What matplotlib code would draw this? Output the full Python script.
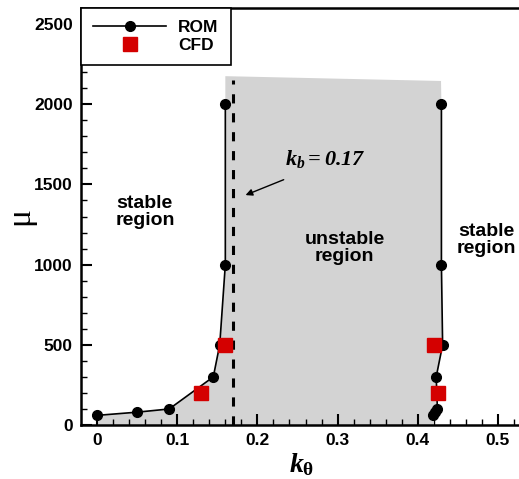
import numpy as np
import matplotlib
matplotlib.use('Agg')
import matplotlib.pyplot as plt

plt.rcParams['font.family'] = 'Liberation Sans'
plt.rcParams['font.weight'] = 'bold'
plt.rcParams['mathtext.fontset'] = 'custom'
plt.rcParams['mathtext.it'] = 'Liberation Serif:italic:bold'
plt.rcParams['mathtext.rm'] = 'Liberation Serif:italic:bold'
plt.rcParams['mathtext.sf'] = 'Liberation Serif:bold'

# ROM results (two branches, same mu values)
mu_rom = [60, 80, 100, 300, 500, 1000, 2000]
k_left = [0.0, 0.05, 0.09, 0.145, 0.153, 0.160, 0.160]
k_right = [0.419, 0.4215, 0.4245, 0.423, 0.431, 0.4295, 0.4295]

# CFD results
k_cfd = [0.13, 0.159, 0.42, 0.4255]
mu_cfd = [200, 500, 500, 200]

# shaded unstable region top edge
shade_top_k = [0.160, 0.429]
shade_top_mu = [2175, 2145]

kb = 0.17
kb_top = 2150


def main():
    fig = plt.figure(figsize=(5.19, 4.79), dpi=100)
    ax = fig.add_axes([81 / 519, 54 / 479, 441 / 519, 417 / 479])

    # grey region: under left branch, across the top, down the right branch
    poly_k = np.concatenate([[0.0], k_left, shade_top_k, k_right[::-1], [k_right[0]]])
    poly_mu = np.concatenate([[0.0], mu_rom, shade_top_mu, mu_rom[::-1], [0.0]])
    ax.fill(poly_k, poly_mu, color='#d3d3d3', lw=0, zorder=1)

    ax.plot([kb, kb], [0, kb_top], color='black', lw=2.2, ls=(0, (3, 3.2)), zorder=2)

    ax.plot(k_left, mu_rom, color='black', marker='o', ms=7, lw=1.2, zorder=3, label='ROM')
    ax.plot(k_right, mu_rom, color='black', marker='o', ms=7, lw=1.2, zorder=3)
    ax.plot(k_cfd, mu_cfd, ls='none', marker='s', ms=10, color='#d40000', zorder=4, label='CFD')

    ax.set_xlim(-0.02, 0.53)
    ax.set_ylim(0, 2600)
    ax.set_xticks([0, 0.1, 0.2, 0.3, 0.4, 0.5])
    ax.set_xticklabels(['0', '0.1', '0.2', '0.3', '0.4', '0.5'])
    ax.set_yticks([0, 500, 1000, 1500, 2000, 2500])
    ax.set_xticks(np.arange(0, 0.53, 0.02), minor=True)
    ax.set_yticks(np.arange(0, 2600, 100), minor=True)
    ax.tick_params(which='major', direction='in', length=8, width=1.5, labelsize=12.5, pad=6)
    ax.tick_params(which='minor', direction='in', length=4, width=1.0)
    ax.tick_params(right=False, top=False, which='both')
    for s in ax.spines.values():
        s.set_linewidth(1.8)

    ax.set_xlabel(r'$k_{\mathsf{\theta}}$', fontsize=20, labelpad=2)
    ax.set_ylabel('μ', fontsize=24, family='Liberation Serif', labelpad=-1)

    ax.text(0.0597, 1331, 'stable\nregion', fontsize=14, fontweight='bold', ha='center', va='center', linespacing=1.0)
    ax.text(0.3087, 1106, 'unstable\nregion', fontsize=14, fontweight='bold', ha='center', va='center', linespacing=1.0)
    ax.text(0.485, 1156, 'stable\nregion', fontsize=14, fontweight='bold', ha='center', va='center', linespacing=1.0)

    ax.annotate('', xy=(0.182, 1427), xytext=(0.236, 1536),
                arrowprops=dict(arrowstyle='-|>', color='black', lw=1, mutation_scale=10))
    ax.text(0.285, 1660, r'$k_b = 0.17$', fontsize=16, ha='center', va='center')

    leg = ax.legend(loc='upper left', bbox_to_anchor=(0, 1), borderaxespad=0, fontsize=12.5,
                    fancybox=False, edgecolor='black', framealpha=1, handlelength=4.2,
                    handletextpad=0.7, labelspacing=0.15, borderpad=0.7, numpoints=1)
    leg.get_frame().set_linewidth(1.2)

    fig.savefig('out.png', dpi=100)


if __name__ == '__main__':
    main()
